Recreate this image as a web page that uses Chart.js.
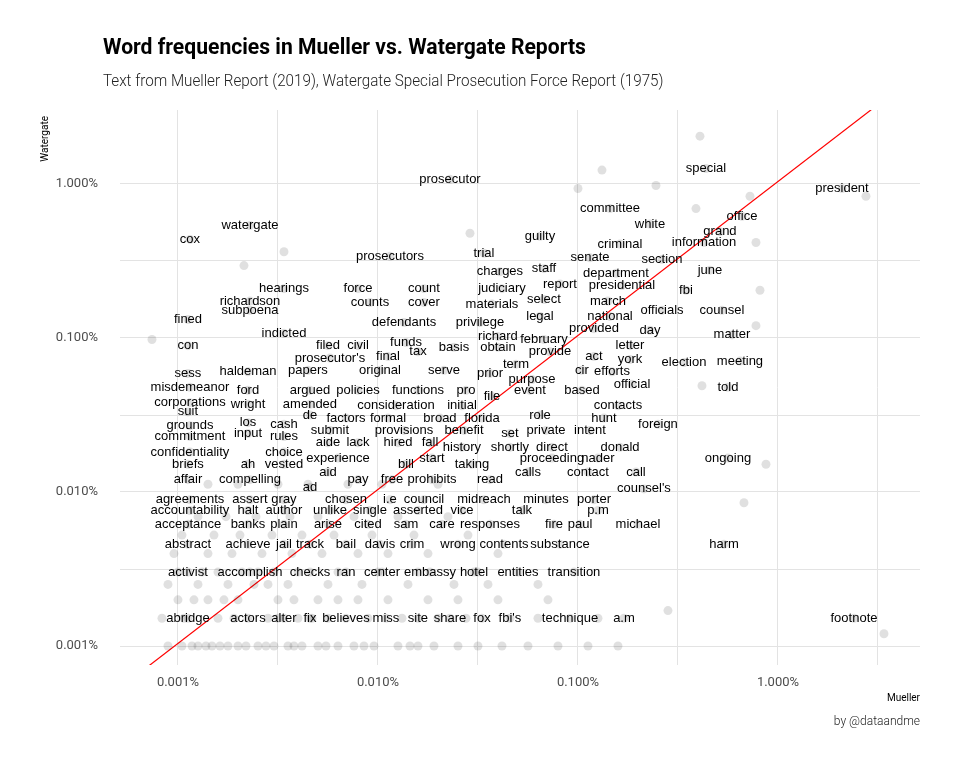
<!DOCTYPE html>
<html>
<head>
<meta charset="utf-8">
<script src="https://cdn.jsdelivr.net/npm/chart.js@4"></script>
<style>
  body { margin: 0; background: #fff; }
  #wrap { position: relative; width: 960px; height: 768px; }
  canvas { position: absolute; left: 0; top: 0; }
  .txt { position: absolute; white-space: nowrap; font-family: Roboto, sans-serif; }
  #title { left: 103px; top: 34px; font-size: 22px; font-weight: 700; color: #000; transform: scaleX(0.96); transform-origin: left; }
  #subtitle { left: 103px; top: 71px; font-size: 16px; font-weight: 300; color: #222; transform: scaleX(0.95); transform-origin: left; }
  #caption { right: 40px; top: 714px; font-size: 12px; font-weight: 300; color: #222; }
</style>
</head>
<body>
<div id="wrap">
  <canvas id="chart" width="960" height="768"></canvas>
  <div class="txt" id="title">Word frequencies in Mueller vs. Watergate Reports</div>
  <div class="txt" id="subtitle">Text from Mueller Report (2019), Watergate Special Prosecution Force Report (1975)</div>
  <div class="txt" id="caption">by @dataandme</div>
</div>
<script>
// Mots étiquetés : log10 de la fréquence (en %) dans chaque rapport
const words = ['prosecutor','special','president','committee','office','white','grand','cox','watergate','guilty','criminal','information','trial','prosecutors','senate','section','staff','charges','department','june','hearings','force','count','report','presidential','fbi','richardson','counts','cover','judiciary','materials','select','march','subpoena','officials','counsel','fined','defendants','privilege','legal','national','indicted','provided','day','matter','con','filed','civil','funds','richard','february','letter','tax','basis','obtain','provide',"prosecutor's",'final','act','york','election','meeting','sess','haldeman','papers','original','serve','term','cir','efforts','prior','purpose','misdemeanor','ford','argued','policies','functions','pro','file','event','based','official','told','corporations','wright','amended','consideration','initial','contacts','suit','de','factors','formal','broad','florida','role','hunt','grounds','los','cash','submit','provisions','benefit','set','private','intent','foreign','commitment','input','rules','aide','lack','hired','fall','history','shortly','direct','donald','confidentiality','choice','experience','start','proceeding','nader','ongoing','briefs','ah','vested','bill','taking','aid','calls','contact','call','affair','compelling','pay','free','prohibits','read',"counsel's",'ad','agreements','assert','gray','chosen','i.e','council','midreach','minutes','porter','accountability','halt','author','unlike','single','asserted','vice','talk','p.m','acceptance','banks','plain','arise','cited','sam','care','responses','fire','paul','michael','abstract','achieve','jail','track','bail','davis','crim','wrong','contents','substance','harm','activist','accomplish','checks','ran','center','embassy','hotel','entities','transition','abridge','actors','alter','fix','believes','miss','site','share','fox',"fbi's",'technique','a.m','footnote'];

const muellerLog = [-1.64,-0.36,0.32,-0.84,-0.18,-0.64,-0.29,-2.94,-2.64,-1.19,-0.79,-0.37,-1.47,-1.94,-0.94,-0.58,-1.17,-1.39,-0.81,-0.34,-2.47,-2.1,-1.77,-1.09,-0.78,-0.46,-2.64,-2.04,-1.77,-1.38,-1.43,-1.17,-0.85,-2.64,-0.58,-0.28,-2.95,-1.87,-1.49,-1.19,-0.84,-2.47,-0.92,-0.64,-0.23,-2.95,-2.25,-2.1,-1.86,-1.4,-1.17,-0.74,-1.8,-1.62,-1.4,-1.14,-2.24,-1.95,-0.92,-0.74,-0.47,-0.19,-2.95,-2.65,-2.35,-1.99,-1.67,-1.31,-0.98,-0.83,-1.44,-1.23,-2.94,-2.65,-2.34,-2.1,-1.8,-1.56,-1.43,-1.24,-0.98,-0.73,-0.25,-2.94,-2.65,-2.34,-1.91,-1.58,-0.8,-2.95,-2.34,-2.16,-1.95,-1.69,-1.48,-1.19,-0.87,-2.94,-2.65,-2.47,-2.24,-1.87,-1.57,-1.34,-1.16,-0.94,-0.6,-2.94,-2.65,-2.47,-2.25,-2.1,-1.9,-1.74,-1.58,-1.34,-1.13,-0.79,-2.94,-2.47,-2.2,-1.73,-1.13,-0.9,-0.25,-2.95,-2.65,-2.47,-1.86,-1.53,-2.25,-1.25,-0.95,-0.71,-2.95,-2.64,-2.1,-1.93,-1.73,-1.44,-0.67,-2.34,-2.94,-2.64,-2.47,-2.16,-1.94,-1.77,-1.47,-1.16,-0.92,-2.94,-2.65,-2.47,-2.24,-2.04,-1.8,-1.58,-1.28,-0.9,-2.95,-2.65,-2.47,-2.25,-2.05,-1.86,-1.68,-1.44,-1.12,-0.99,-0.7,-2.95,-2.65,-2.47,-2.34,-2.16,-1.99,-1.83,-1.6,-1.37,-1.09,-0.27,-2.95,-2.64,-2.34,-2.16,-1.98,-1.74,-1.52,-1.3,-1.02,-2.95,-2.65,-2.47,-2.34,-2.16,-1.96,-1.8,-1.64,-1.48,-1.34,-1.04,-0.77,0.38];

const watergateLog = [0.03,0.1,-0.03,-0.16,-0.21,-0.26,-0.31,-0.36,-0.27,-0.34,-0.39,-0.38,-0.45,-0.47,-0.48,-0.49,-0.55,-0.57,-0.58,-0.56,-0.68,-0.68,-0.68,-0.65,-0.66,-0.69,-0.76,-0.77,-0.77,-0.68,-0.78,-0.75,-0.76,-0.82,-0.82,-0.82,-0.88,-0.9,-0.9,-0.86,-0.86,-0.97,-0.94,-0.95,-0.98,-1.05,-1.05,-1.05,-1.03,-0.99,-1.01,-1.05,-1.09,-1.06,-1.06,-1.09,-1.13,-1.12,-1.12,-1.14,-1.16,-1.15,-1.23,-1.22,-1.21,-1.21,-1.21,-1.17,-1.21,-1.22,-1.23,-1.27,-1.32,-1.34,-1.34,-1.34,-1.34,-1.34,-1.38,-1.34,-1.34,-1.3,-1.32,-1.42,-1.43,-1.43,-1.44,-1.44,-1.44,-1.48,-1.5,-1.52,-1.52,-1.52,-1.52,-1.5,-1.52,-1.57,-1.55,-1.56,-1.6,-1.6,-1.6,-1.62,-1.6,-1.6,-1.56,-1.64,-1.62,-1.64,-1.68,-1.68,-1.68,-1.68,-1.71,-1.71,-1.71,-1.71,-1.74,-1.74,-1.78,-1.78,-1.78,-1.78,-1.78,-1.82,-1.82,-1.82,-1.82,-1.82,-1.87,-1.87,-1.87,-1.87,-1.92,-1.92,-1.92,-1.92,-1.92,-1.92,-1.98,-1.97,-2.05,-2.05,-2.05,-2.05,-2.05,-2.05,-2.05,-2.05,-2.05,-2.12,-2.12,-2.12,-2.12,-2.12,-2.12,-2.12,-2.12,-2.12,-2.21,-2.21,-2.21,-2.21,-2.21,-2.21,-2.21,-2.21,-2.21,-2.21,-2.21,-2.34,-2.34,-2.34,-2.34,-2.34,-2.34,-2.34,-2.34,-2.34,-2.34,-2.34,-2.52,-2.52,-2.52,-2.52,-2.52,-2.52,-2.52,-2.52,-2.52,-2.82,-2.82,-2.82,-2.82,-2.82,-2.82,-2.82,-2.82,-2.82,-2.82,-2.82,-2.82,-2.82];

// Autres mots (sans étiquette), lus approximativement
const otherMuellerLog = [-0.39,-0.88,-0.61,-1.0,-0.14,-0.41,-0.11,0.44,0.53,-0.17,-0.06,-0.55,-0.09,-0.11,-0.38,-1.54,-3.13,-2.47,-2.67,
  -3.05,-2.98,-2.93,-2.9,-2.86,-2.83,-2.79,-2.75,-2.7,-2.66,-2.6,-2.56,-2.52,-2.45,-2.42,-2.38,-2.3,-2.26,-2.2,-2.12,-2.07,-2.02,-1.9,-1.84,-1.8,-1.72,-1.6,-1.5,-1.38,-1.25,-1.1,-0.95,-0.8,
  -3.08,-2.97,-2.8,-2.72,-2.55,-2.5,-2.4,-2.33,-2.25,-2.05,-1.88,-1.7,-1.56,-1.2,-0.9,
  -3.0,-2.92,-2.85,-2.77,-2.7,-2.5,-2.42,-2.3,-2.2,-2.1,-1.95,-1.75,-1.6,-1.4,-1.15,
  -3.05,-2.9,-2.75,-2.62,-2.55,-2.45,-2.25,-2.08,-1.85,-1.62,-1.45,-1.2,
  -3.0,-2.88,-2.8,-2.68,-2.6,-2.52,-2.4,-2.2,-2.0,-1.8,-1.5,
  -3.02,-2.85,-2.73,-2.58,-2.43,-2.28,-2.1,-1.95,-1.75,-1.4,
  -2.98,-2.82,-2.69,-2.53,-2.38,-2.22,-2.03,-1.82,-1.55,
  -2.9,-2.76,-2.61,-2.44,-2.3,-2.12,-1.9,-1.65,
  -2.85,-2.7,-2.5,-2.35,-2.15,-1.98,-1.7];
const otherWatergateLog = [0.31,0.09,-0.01,-0.03,-0.08,-0.16,-0.38,-0.08,-2.92,-2.07,-1.82,-2.77,-0.69,-0.92,-1.31,-0.32,-1.01,-0.44,-0.53,
  -3,-3,-3,-3,-3,-3,-3,-3,-3,-3,-3,-3,-3,-3,-3,-3,-3,-3,-3,-3,-3,-3,-3,-3,-3,-3,-3,-3,-3,-3,-3,-3,-3,
  -2.82,-2.82,-2.82,-2.82,-2.82,-2.82,-2.82,-2.82,-2.82,-2.82,-2.82,-2.82,-2.82,-2.82,-2.82,
  -2.7,-2.7,-2.7,-2.7,-2.7,-2.7,-2.7,-2.7,-2.7,-2.7,-2.7,-2.7,-2.7,-2.7,-2.7,
  -2.6,-2.6,-2.6,-2.6,-2.6,-2.6,-2.6,-2.6,-2.6,-2.6,-2.6,-2.6,
  -2.52,-2.52,-2.52,-2.52,-2.52,-2.52,-2.52,-2.52,-2.52,-2.52,-2.52,
  -2.4,-2.4,-2.4,-2.4,-2.4,-2.4,-2.4,-2.4,-2.4,-2.4,
  -2.28,-2.28,-2.28,-2.28,-2.28,-2.28,-2.28,-2.28,-2.28,
  -2.16,-2.16,-2.16,-2.16,-2.16,-2.16,-2.16,-2.16,
  -1.95,-1.95,-1.95,-1.95,-1.95,-1.95,-1.95];

// Ligne de référence (fréquences égales)
const refLineX = [0.0005, 5.5];
const refLineY = [0.00052, 5.7];

const majorTicks = [0.001, 0.01, 0.1, 1];
const tickLabels = ['0.001%', '0.010%', '0.100%', '1.000%'];
const gridTicksX = [0.001, 0.00316, 0.01, 0.0316, 0.1, 0.316, 1, 3.16];
const gridTicksY = [0.001, 0.00316, 0.01, 0.0316, 0.1, 0.316, 1];

const toPoints = (xs, ys) => xs.map((v, i) => ({ x: Math.pow(10, v), y: Math.pow(10, ys[i]) }));

const wordLabels = {
  id: 'wordLabels',
  afterDatasetsDraw(chart) {
    const ctx = chart.ctx;
    const meta = chart.getDatasetMeta(0);
    ctx.save();
    ctx.font = '13px "Liberation Sans", Arial, sans-serif';
    ctx.fillStyle = '#000';
    ctx.textAlign = 'center';
    ctx.textBaseline = 'middle';
    meta.data.forEach((pt, i) => ctx.fillText(words[i], pt.x, pt.y));
    ctx.restore();
  }
};

const axisText = {
  id: 'axisText',
  afterDraw(chart) {
    const ctx = chart.ctx;
    const sx = chart.scales.x, sy = chart.scales.y;
    ctx.save();
    ctx.font = '13px Roboto, sans-serif';
    ctx.fillStyle = '#4d4d4d';
    ctx.textBaseline = 'middle';
    ctx.textAlign = 'center';
    majorTicks.forEach((v, i) => ctx.fillText(tickLabels[i], sx.getPixelForValue(v), 683));
    ctx.textAlign = 'right';
    majorTicks.forEach((v, i) => ctx.fillText(tickLabels[i], 98, sy.getPixelForValue(v)));
    ctx.fillStyle = '#000';
    ctx.font = '10px Roboto, sans-serif';
    ctx.fillText('Mueller', 920, 698);
    ctx.translate(45, 116);
    ctx.rotate(-Math.PI / 2);
    ctx.textAlign = 'right';
    ctx.fillText('Watergate', 0, 0);
    ctx.restore();
  }
};

const gridOpts = { color: '#e3e3e3', lineWidth: 1, drawTicks: false };

new Chart(document.getElementById('chart'), {
  type: 'scatter',
  data: {
    datasets: [{
      data: toPoints(muellerLog, watergateLog),
      backgroundColor: 'rgba(0,0,0,0.12)',
      borderWidth: 0,
      pointRadius: 4.5
    }, {
      data: toPoints(otherMuellerLog, otherWatergateLog),
      backgroundColor: 'rgba(0,0,0,0.12)',
      borderWidth: 0,
      pointRadius: 4.5
    }, {
      type: 'line',
      data: refLineX.map((v, i) => ({ x: v, y: refLineY[i] })),
      borderColor: '#ff0000',
      borderWidth: 1.2,
      pointRadius: 0,
      clip: 0
    }]
  },
  options: {
    responsive: false,
    animation: false,
    layout: { padding: { left: 120, right: 40, top: 110, bottom: 103 } },
    plugins: { legend: { display: false }, tooltip: { enabled: false } },
    scales: {
      x: {
        type: 'logarithmic', min: 0.000513, max: 5.13,
        afterBuildTicks: s => { s.ticks = gridTicksX.map(v => ({ value: v })); },
        ticks: { display: false }, grid: gridOpts, border: { display: false }
      },
      y: {
        type: 'logarithmic', min: 0.000753, max: 3.02,
        afterBuildTicks: s => { s.ticks = gridTicksY.map(v => ({ value: v })); },
        ticks: { display: false }, grid: gridOpts, border: { display: false }
      }
    }
  },
  plugins: [wordLabels, axisText]
});
</script>
</body>
</html>
